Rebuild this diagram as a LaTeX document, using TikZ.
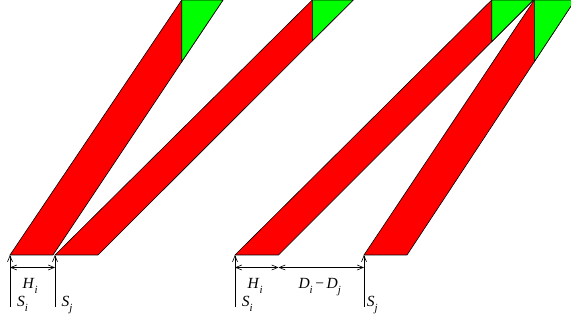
\documentclass[tikz,border=0pt]{standalone}
\usepackage{fontspec}
\setmainfont{Liberation Serif}
\usetikzlibrary{arrows.meta}
\definecolor{barred}{RGB}{255,0,0}
\definecolor{bargreen}{RGB}{0,255,0}
\newcommand{\lbl}[2]{\textit{#1}\raisebox{-0.28em}{\fontsize{11}{11}\selectfont\textit{#2}}}
\tikzset{
  redbar/.style={fill=barred, draw=black, line width=0.6pt, line join=miter},
  greentri/.style={fill=bargreen, draw=black, line width=0.6pt},
  dimline/.style={line width=0.6pt, -{Straight Barb[length=6pt,width=5pt]}},
  dimboth/.style={line width=0.6pt, {Straight Barb[length=6pt,width=5pt]}-{Straight Barb[length=6pt,width=5pt]}},
  lab/.style={inner sep=0pt, anchor=base west, font=\fontsize{15.5}{15.5}\selectfont}
}
\begin{document}
\begin{tikzpicture}[x=1pt,y=-1pt]
\useasboundingbox (0,0) rectangle (571,323);
\begin{scope}
\clip (0,0) rectangle (571,323);
% shape 1
\coordinate (a1) at (10,255);   \coordinate (b1) at (53,255);
\coordinate (c1) at (223,0);    \coordinate (d1) at (181.7,0);
\coordinate (g1) at (181.7,61.7);
\draw[redbar] (a1) -- (b1) -- (c1) -- (d1) -- cycle;
\draw[greentri] (d1) -- (c1) -- (g1) -- cycle;
% shape 2
\coordinate (a2) at (55,255);   \coordinate (b2) at (98,255);
\coordinate (c2) at (353.3,0);  \coordinate (d2) at (312.3,0);
\coordinate (g2) at (312.3,40.7);
\draw[redbar] (a2) -- (b2) -- (c2) -- (d2) -- cycle;
\draw[greentri] (d2) -- (c2) -- (g2) -- cycle;
% shape 3
\coordinate (a3) at (235,255);  \coordinate (b3) at (278.5,255);
\coordinate (c3) at (533.4,0);  \coordinate (d3) at (491.7,0);
\coordinate (g3) at (491.7,41.7);
\draw[redbar] (a3) -- (b3) -- (c3) -- (d3) -- cycle;
\draw[greentri] (d3) -- (c3) -- (g3) -- cycle;
% shape 4
\coordinate (a4) at (364,255);  \coordinate (b4) at (407,255);
\coordinate (c4) at (575,0);    \coordinate (d4) at (534.3,0);
\coordinate (g4) at (534.3,61.7);
\draw[redbar] (a4) -- (b4) -- (c4) -- (d4) -- cycle;
\draw[greentri] (d4) -- (c4) -- (g4) -- cycle;
\end{scope}
% dimension lines
\coordinate (s1) at (10,307);   \coordinate (s1t) at (10,255);
\coordinate (s2) at (55,307);   \coordinate (s2t) at (55,255);
\coordinate (s3) at (235,307);  \coordinate (s3t) at (235,255);
\coordinate (s4) at (364,307);  \coordinate (s4t) at (364,255);
\draw[dimline] (s1) -- (s1t);
\draw[dimline] (s2) -- (s2t);
\draw[dimline] (s3) -- (s3t);
\draw[dimline] (s4) -- (s4t);
\coordinate (h1l) at (10,267.5);  \coordinate (h1r) at (55,267.5);
\coordinate (h2l) at (235,267.5); \coordinate (h2m) at (278.5,267.5);
\coordinate (h2r) at (364,267.5);
\draw[dimboth] (h1l) -- (h1r);
\draw[dimboth] (h2l) -- (h2m);
\draw[dimboth] (h2m) -- (h2r);
% labels
\node[lab] (hi1) at (22.5,288.7) {\lbl{H}{i}};
\node[lab] (si1) at (17,307) {\lbl{S}{i}};
\node[lab] (sj1) at (61.5,307) {\lbl{S}{j}};
\node[lab] (hi2) at (247.5,288.7) {\lbl{H}{i}};
\node[lab] (dd) at (298.3,289) {\lbl{D}{i}\,−\,\lbl{D}{j}};
\node[lab] (si2) at (241.7,307) {\lbl{S}{i}};
\node[lab] (sj2) at (366.7,307) {\lbl{S}{j}};
\end{tikzpicture}
\end{document}
